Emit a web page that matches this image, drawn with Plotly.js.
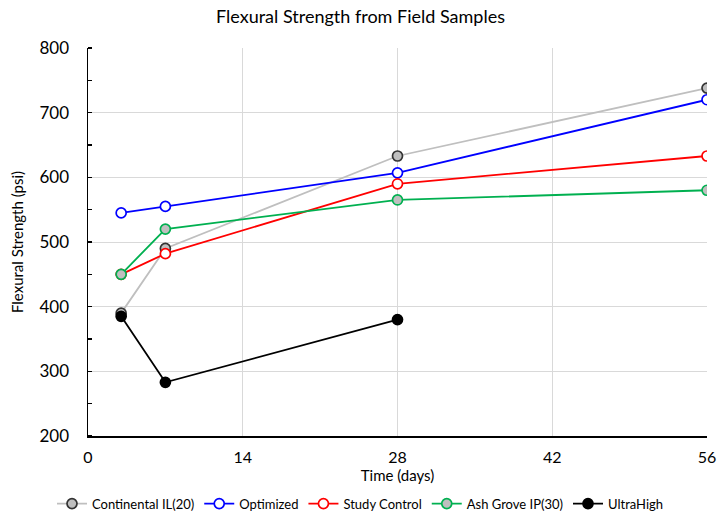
<!DOCTYPE html>
<html>
<head>
<meta charset="utf-8">
<script src="https://cdn.plot.ly/plotly-3.0.1.min.js"></script>
<style>
  html, body { margin: 0; padding: 0; background: #fff; }
  #chart { width: 721px; height: 516px; }
</style>
</head>
<body>
<div id="chart"></div>
<script>
// Flexural strength of field samples by curing age
const days = [3, 7, 28, 56];
const daysUltra = [3, 7, 28];

const continental = [390, 490, 633, 738];
const optimized = [545, 555, 607, 720];
const studyControl = [450, 482, 590, 633];
const ashGrove = [450, 520, 565, 580];
const ultraHigh = [385, 283, 380];

const xTicks = [0, 14, 28, 42, 56];
const yTicks = [200, 300, 400, 500, 600, 700, 800];

const FONT = 'Lato, "Open Sans", sans-serif';

function series(name, x, y, lineColor, markerFill, markerLine) {
  return {
    type: 'scatter',
    mode: 'lines+markers',
    name: name,
    x: x,
    y: y,
    line: { color: lineColor, width: 1.8 },
    marker: {
      symbol: 'circle',
      size: 10,
      color: markerFill,
      line: { color: markerLine, width: 1.7 }
    }
  };
}

const traces = [
  series('Continental IL(20)', days, continental, '#bfbfbf', '#bfbfbf', '#333333'),
  series('Optimized', days, optimized, '#0000ff', '#ffffff', '#0000ff'),
  series('Study Control', days, studyControl, '#ff0000', '#ffffff', '#ff0000'),
  series('Ash Grove IP(30)', days, ashGrove, '#00b050', '#bfbfbf', '#00b050'),
  series('UltraHigh', daysUltra, ultraHigh, '#000000', '#000000', '#000000')
];

const layout = {
  width: 721,
  height: 516,
  paper_bgcolor: '#ffffff',
  plot_bgcolor: '#ffffff',
  font: { family: FONT, color: '#000000', size: 14 },
  margin: { l: 88, r: 14, t: 48, b: 80 },
  title: {
    text: 'Flexural Strength from Field Samples',
    font: { family: FONT, size: 18, color: '#000000' },
    x: 0.5, xanchor: 'center',
    y: 0.967, yanchor: 'middle'
  },
  xaxis: {
    range: [0, 56],
    tickvals: xTicks,
    ticktext: xTicks.map(String),
    showgrid: true,
    gridcolor: '#d9d9d9',
    gridwidth: 1,
    zeroline: false,
    showline: true,
    linecolor: '#000000',
    linewidth: 1.5,
    ticks: '',
    ticklabelstandoff: 6,
    tickfont: { family: FONT, size: 16 },
    title: { text: 'Time (days)', font: { family: FONT, size: 15 }, standoff: 4 }
  },
  yaxis: {
    range: [200, 800],
    tickvals: yTicks,
    ticktext: yTicks.map(String),
    showgrid: true,
    gridcolor: '#d9d9d9',
    gridwidth: 1,
    zeroline: false,
    showline: true,
    linecolor: '#000000',
    linewidth: 1.5,
    ticks: '',
    ticklabelstandoff: 14,
    tickfont: { family: FONT, size: 17 },
    minor: { dtick: 50, ticks: 'inside', ticklen: 4, tickcolor: '#000000', tickwidth: 1.2, showgrid: false },
    title: { text: 'Flexural Strength (psi)', font: { family: FONT, size: 15 }, standoff: 12 }
  },
  legend: {
    orientation: 'h',
    xref: 'container',
    yref: 'container',
    x: 0.5, xanchor: 'center',
    y: 0.024, yanchor: 'middle',
    font: { family: FONT, size: 13 },
    itemwidth: 30,
    tracegroupgap: 0
  },
  showlegend: true
};

Plotly.newPlot('chart', traces, layout, { displayModeBar: false, staticPlot: true });
</script>
</body>
</html>
